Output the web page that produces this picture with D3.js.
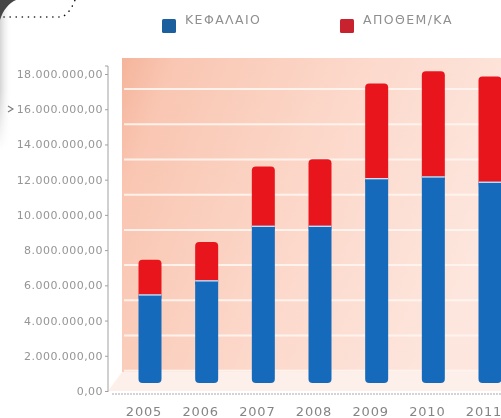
<!DOCTYPE html>
<html><head><meta charset="utf-8">
<script src="https://cdn.jsdelivr.net/npm/d3@7"></script>
<style>html,body{margin:0;padding:0;background:#fff;overflow:hidden}</style>
</head><body>
<svg id="c" width="501" height="418"></svg>
<script>
const years = ["2005","2006","2007","2008","2009","2010","2011"];
const capital = [5.0e6, 5.8e6, 8.9e6, 8.9e6, 11.6e6, 11.7e6, 11.4e6];   // ΚΕΦΑΛΑΙΟ
const reserves = [2.0e6, 2.2e6, 3.4e6, 3.8e6, 5.4e6, 6.0e6, 6.0e6];     // ΑΠΟΘΕΜ/ΚΑ
const seriesNames = ["ΚΕΦΑΛΑΙΟ", "ΑΠΟΘΕΜ/ΚΑ"];
const seriesColors = ["#176bbb", "#e8171f"];
const tickValues = [0, 2e6, 4e6, 6e6, 8e6, 10e6, 12e6, 14e6, 16e6, 18e6];

const svg = d3.select("#c");
const defs = svg.append("defs");
const blur = defs.append("filter").attr("id","soft").attr("x","-5%").attr("y","-5%").attr("width","110%").attr("height","110%");
blur.append("feGaussianBlur").attr("stdDeviation",0.55);

const g = defs.append("linearGradient").attr("id","wall").attr("x1","0").attr("x2","1").attr("y1","0").attr("y2","0.3");
g.append("stop").attr("offset","0").attr("stop-color","#f5b49b");
g.append("stop").attr("offset","0.12").attr("stop-color","#f9c6b2");
g.append("stop").attr("offset","0.55").attr("stop-color","#fcd8ca");
g.append("stop").attr("offset","1").attr("stop-color","#fde6dd");

const root = svg.append("g").attr("filter","url(#soft)");

// page edge decoration
const lg = defs.append("linearGradient").attr("id","edge").attr("x1","0").attr("x2","1");
lg.append("stop").attr("offset","0").attr("stop-color","#d4d4d4");
lg.append("stop").attr("offset","1").attr("stop-color","#ffffff").attr("stop-opacity",0);
const lg2 = defs.append("linearGradient").attr("id","edgefade").attr("x1","0").attr("x2","0").attr("y1","0").attr("y2","1");
lg2.append("stop").attr("offset","0.6").attr("stop-color","#fff").attr("stop-opacity",1);
lg2.append("stop").attr("offset","1").attr("stop-color","#fff").attr("stop-opacity",0);
const mask = defs.append("mask").attr("id","edgemask");
mask.append("rect").attr("x",0).attr("y",0).attr("width",14).attr("height",150).attr("fill","url(#edgefade)");
root.append("rect").attr("x",0).attr("y",0).attr("width",12).attr("height",150).attr("fill","url(#edge)").attr("mask","url(#edgemask)");
root.append("path").attr("d","M0,20 C3,10 9,3 16,0 L0,0 Z").attr("fill","#454545");
root.append("path").attr("d","M4,17 L62,17 C68,14 72,8 75,0")
  .attr("fill","none").attr("stroke","#111").attr("stroke-width",1.6)
  .attr("stroke-dasharray","0.1 6").attr("stroke-linecap","round");
root.append("path").attr("d","M8,106 l5,3 l-5,3").attr("fill","none").attr("stroke","#777").attr("stroke-width",1.1);

const yAxisScale = d3.scaleLinear().domain([0, 18e6]).range([391, 74]);
const yBar = d3.scaleLinear().domain([0, 18e6]).range([383, 66]);
const x = d3.scalePoint().domain(years).range([150, 490]);
const barW = 23;

// back wall
root.append("rect").attr("x",122).attr("y",58).attr("width",390).attr("height",314).attr("fill","url(#wall)");
// floor
root.append("path").attr("d","M108,391 L122,372 L501,372 L501,391 Z").attr("fill","#fdf0ea");
// wall grid lines
root.append("g").selectAll("line").data(tickValues.filter(v => v > 0)).join("line")
  .attr("x1",124).attr("x2",501)
  .attr("y1",d => yAxisScale(d) + 15).attr("y2",d => yAxisScale(d) + 15)
  .attr("stroke","#fff6f1").attr("stroke-width",2).attr("opacity",0.9);

// y axis
const fmt = d3.formatLocale({decimal:",", thousands:".", grouping:[3], currency:["",""]}).format(",.2f");
const ya = root.append("g").attr("transform","translate(108,0)")
  .call(d3.axisLeft(yAxisScale).tickValues(tickValues).tickFormat(fmt).tickSize(3).tickPadding(2));
ya.select(".domain").attr("stroke","#a0a0a0").attr("d","M-3,66 H0 V392");
ya.selectAll(".tick line").attr("stroke","#a0a0a0");
ya.selectAll(".tick text").attr("fill","#959595").attr("font-family","DejaVu Sans")
  .attr("font-size",11).attr("letter-spacing","0.45px");

// x axis line (dotted)
root.append("line").attr("x1",112).attr("x2",501).attr("y1",394).attr("y2",394)
  .attr("stroke","#a8a8a8").attr("stroke-width",1).attr("stroke-dasharray","2 1");
root.append("g").selectAll("text").data(years).join("text")
  .attr("x",d => x(d) - 6).attr("y",416).attr("text-anchor","middle")
  .attr("fill","#858585").attr("font-family","DejaVu Sans").attr("font-size",13)
  .attr("letter-spacing","0.8px").text(d => d);

// stacked bars
const data = years.map((y,i) => ({year:y, cap:capital[i], res:reserves[i]}));
const bars = root.append("g").selectAll("g").data(data).join("g");
bars.append("rect").attr("x",d => x(d.year) - barW/2).attr("width",barW)
  .attr("y",d => yBar(d.cap + d.res)).attr("height",d => yBar(d.cap) - yBar(d.cap + d.res) + 4)
  .attr("rx",4).attr("fill",seriesColors[1]);
bars.append("rect").attr("x",d => x(d.year) - barW/2).attr("width",barW)
  .attr("y",d => yBar(d.cap)).attr("height",d => yBar(0) - yBar(d.cap))
  .attr("rx",4).attr("fill",seriesColors[0]);
bars.append("rect").attr("x",d => x(d.year) - barW/2).attr("width",barW)
  .attr("y",d => yBar(d.cap) - 0.5).attr("height",4).attr("fill",seriesColors[0]);
bars.append("line").attr("x1",d => x(d.year) - barW/2).attr("x2",d => x(d.year) + barW/2)
  .attr("y1",d => yBar(d.cap)).attr("y2",d => yBar(d.cap)).attr("stroke","#e6eef8").attr("stroke-width",1.2);

// legend
const legX = [162, 340];
const leg = root.append("g").selectAll("g").data(seriesNames).join("g");
leg.append("rect").attr("x",(d,i) => legX[i]).attr("y",19).attr("width",14).attr("height",14)
  .attr("rx",1.5).attr("fill",(d,i) => i === 0 ? "#1f5e9e" : "#c8202e");
leg.append("text").attr("x",(d,i) => legX[i] + 23).attr("y",24)
  .attr("fill","#8f8f8f").attr("font-family","DejaVu Sans").attr("font-size",12.5)
  .attr("letter-spacing","1.4px").text(d => d);
</script>
</body></html>
